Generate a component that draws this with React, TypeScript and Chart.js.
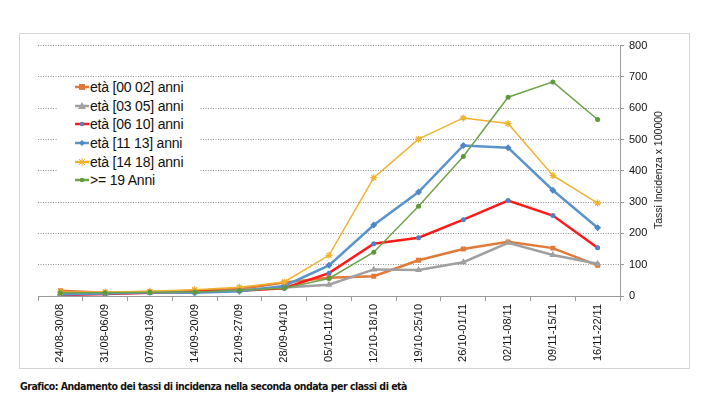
import React, { useEffect, useRef } from 'react';
import { Chart, registerables } from 'chart.js';

Chart.register(...registerables);

const WEEKS = [
    '24/08-30/08', '31/08-06/09', '07/09-13/09', '14/09-20/09', '21/09-27/09',
    '28/09-04/10', '05/10-11/10', '12/10-18/10', '19/10-25/10', '26/10-01/11',
    '02/11-08/11', '09/11-15/11', '16/11-22/11'
];

const ETA_00_02 = [17, 10, 13, 17, 22, 43, 58, 63, 114, 150, 173, 153, 98];
const ETA_03_05 = [8, 8, 10, 12, 18, 27, 36, 85, 83, 108, 170, 131, 103];
const ETA_06_10 = [3, 6, 10, 14, 17, 25, 73, 167, 186, 244, 305, 257, 154];
const ETA_11_13 = [5, 8, 12, 10, 15, 32, 98, 227, 332, 481, 474, 338, 218];
const ETA_14_18 = [12, 13, 15, 20, 28, 45, 130, 378, 501, 569, 551, 385, 297];
const ETA_19_PLUS = [10, 10, 12, 13, 18, 25, 56, 140, 287, 446, 635, 684, 564];

const Y_TICKS = [0, 100, 200, 300, 400, 500, 600, 700, 800];

const SERIES = [
    { label: 'età [00 02] anni', data: ETA_00_02, color: '#E07A3A', marker: '#E07A3A', style: 'rect', radius: 3.5, width: 2.5 },
    { label: 'età [03 05] anni', data: ETA_03_05, color: '#A0A0A0', marker: '#A0A0A0', style: 'triangle', radius: 4, width: 2.5 },
    { label: 'età [06 10] anni', data: ETA_06_10, color: '#FF1A1A', marker: '#4F81C4', style: 'circle', radius: 2.5, width: 2.5 },
    { label: 'età [11 13] anni', data: ETA_11_13, color: '#5B93CC', marker: '#4F86C6', style: 'rectRot', radius: 3.5, width: 2.5 },
    { label: 'età [14 18] anni', data: ETA_14_18, color: '#F0B22E', marker: '#F0B22E', style: 'star', radius: 3.5, width: 1.5 },
    { label: '>= 19 Anni', data: ETA_19_PLUS, color: '#6FA44A', marker: '#5E9A3A', style: 'circle', radius: 2.5, width: 1.5 },
];

const FONT = "'Liberation Sans', Arial, Helvetica, sans-serif";

const LegendMark: React.FC<{ color: string; marker: string; style: string }> = ({ color, marker, style }) => {
    let shape: React.ReactNode = null;
    if (style === 'rect') shape = <rect x={4} y={3} width={6} height={6} fill={marker} />;
    else if (style === 'triangle') shape = <polygon points="7,2 11,9 3,9" fill={marker} />;
    else if (style === 'rectRot') shape = <polygon points="7,3 10,6 7,9 4,6" fill={marker} />;
    else if (style === 'star') shape = <path d="M4,3 L10,9 M10,3 L4,9 M7,2 L7,10" stroke={marker} strokeWidth={1} />;
    else shape = <circle cx={7} cy={6} r={2.2} fill={marker} />;
    return (
        <svg width={14} height={12} style={{ display: 'block', marginRight: 1 }}>
            <line x1={0} y1={6} x2={14} y2={6} stroke={color} strokeWidth={2.5} />
            {shape}
        </svg>
    );
};

const App: React.FC = () => {
    const canvasRef = useRef<HTMLCanvasElement>(null);

    useEffect(() => {
        if (!canvasRef.current) return;
        const chart = new Chart(canvasRef.current, {
            type: 'line',
            data: {
                labels: WEEKS,
                datasets: SERIES.map((s, i) => ({
                    label: s.label,
                    data: s.data,
                    borderColor: s.color,
                    backgroundColor: s.marker,
                    pointBackgroundColor: s.marker,
                    pointBorderColor: s.marker,
                    pointBorderWidth: s.style === 'star' ? 1.2 : 0,
                    pointStyle: s.style as any,
                    pointRadius: s.radius,
                    borderWidth: s.width,
                    tension: 0,
                    order: SERIES.length - i,
                })),
            },
            options: {
                responsive: true,
                maintainAspectRatio: false,
                animation: false,
                layout: { padding: { left: 18, top: 9, right: 0, bottom: 0 } },
                plugins: {
                    legend: { display: false },
                    tooltip: { enabled: false },
                },
                scales: {
                    x: {
                        offset: true,
                        grid: {
                            offset: true,
                            drawOnChartArea: false,
                            drawTicks: true,
                            tickLength: 5,
                            color: '#9a9a9a',
                        },
                        border: { color: '#9a9a9a', width: 1 },
                        ticks: {
                            minRotation: 90,
                            maxRotation: 90,
                            autoSkip: false,
                            padding: 3,
                            color: '#111',
                            font: { family: FONT, size: 11 },
                        },
                        afterFit: (scale: any) => { scale.height = 72; },
                    },
                    y: {
                        position: 'right',
                        min: 0,
                        max: 800,
                        afterBuildTicks: (scale: any) => { scale.ticks = Y_TICKS.map(v => ({ value: v })); },
                        grid: {
                            color: (ctx: any) => (ctx.tick && ctx.tick.value === 0 ? 'rgba(0,0,0,0)' : '#8f8f8f'),
                            tickColor: '#9a9a9a',
                            lineWidth: 1,
                            tickLength: 4,
                            tickBorderDash: [],
                        },
                        border: { color: '#9a9a9a', width: 1, dash: [1, 1.5] },
                        ticks: {
                            padding: 5,
                            color: '#111',
                            font: { family: FONT, size: 11 },
                        },
                        afterFit: (scale: any) => { scale.width = 69; },
                    },
                },
            },
        });
        return () => chart.destroy();
    }, []);

    return (
        <div style={{ position: 'fixed', left: 0, top: 0, width: 702, height: 416, background: '#fff', overflow: 'hidden' }}>
            <div style={{ position: 'absolute', left: 19, top: 33, width: 671, height: 336, border: '1.5px solid #d4d4d4', boxSizing: 'border-box' }} />
            <div style={{ position: 'absolute', left: 20, top: 34, width: 669, height: 334 }}>
                <canvas ref={canvasRef} />
            </div>
            <div style={{
                position: 'absolute', left: 57, top: 78, width: 143, height: 112, background: '#fff',
                fontFamily: FONT, fontSize: 14, color: '#111',
            }}>
                {SERIES.map(s => (
                    <div key={s.label} style={{ position: 'relative', display: 'flex', alignItems: 'center', height: 18.6, paddingLeft: 18, letterSpacing: -0.2 }}>
                        <LegendMark color={s.color} marker={s.marker} style={s.style} />
                        <span>{s.label}</span>
                    </div>
                ))}
            </div>
            <div style={{
                position: 'absolute', left: 658, top: 170, transform: 'translate(-50%, -50%) rotate(-90deg)',
                whiteSpace: 'nowrap', fontFamily: FONT, fontSize: 10.5, color: '#111',
            }}>
                Tassi Incidenza x 100000
            </div>
            <div style={{
                position: 'absolute', left: 20, top: 380, whiteSpace: 'nowrap', letterSpacing: -0.5,
                fontFamily: "'DejaVu Sans Condensed', 'DejaVu Sans', sans-serif", fontWeight: 'bold', fontSize: 10.5, color: '#111',
            }}>
                Grafico: Andamento dei tassi di incidenza nella seconda ondata per classi di età
            </div>
        </div>
    );
};

export default App;
